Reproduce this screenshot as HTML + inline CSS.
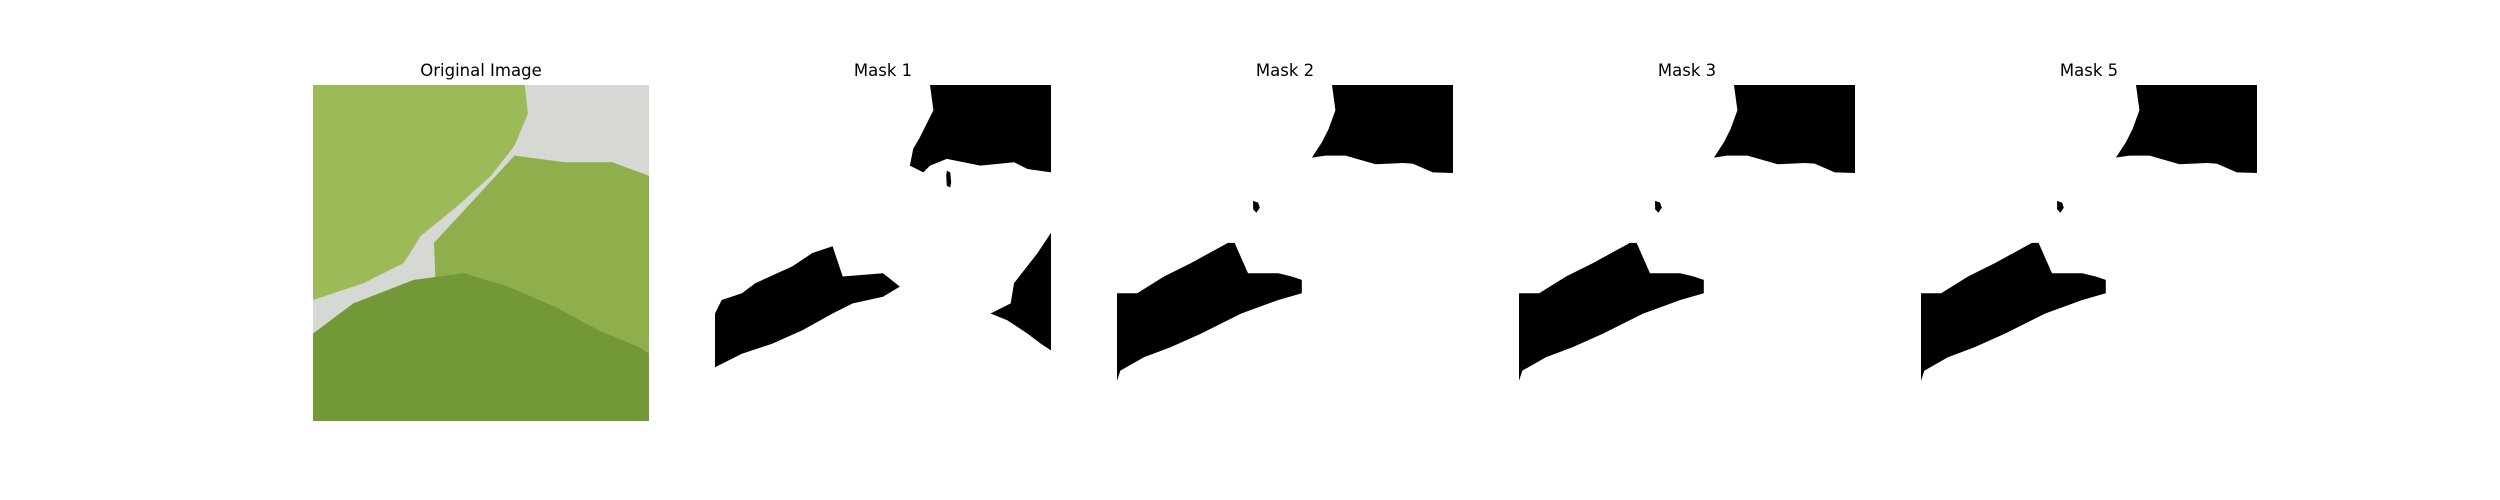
<!DOCTYPE html>
<html><head><meta charset="utf-8"><style>
html,body{margin:0;padding:0;background:#fff;width:2500px;height:500px;overflow:hidden}
svg{display:block}
text{font-family:"DejaVu Sans","Liberation Sans",sans-serif;font-size:16.5px;fill:#000}
</style></head><body>
<svg id="fig" width="2500" height="500" viewBox="0 0 2500 500" xmlns="http://www.w3.org/2000/svg"></svg>
<script>
const titles = ["Original Image", "Mask 1", "Mask 2", "Mask 3", "Mask 5"];
const maskA = [
  [[.64,0],[.65,.075],[.61,.155],[.59,.19],[.58,.24],[.62,.26],[.64,.24],[.69,.22],[.79,.24],[.89,.23],[.93,.25],[1,.26],[1,0]],
  [[.69,.255],[.70,.26],[.703,.29],[.70,.305],[.69,.30],[.688,.27]],
  [[0,.68],[.02,.64],[.08,.62],[.12,.59],[.23,.54],[.29,.50],[.35,.48],[.38,.57],[.50,.56],[.55,.60],[.50,.63],[.41,.65],[.35,.68],[.26,.73],[.17,.77],[.08,.80],[0,.84]],
  [[1,.44],[.96,.50],[.89,.59],[.88,.65],[.82,.68],[.87,.70],[.93,.74],[.97,.77],[1,.79]]
];
const maskB = [
  [[.64,0],[.65,.075],[.63,.13],[.61,.17],[.58,.216],[.62,.21],[.68,.21],[.77,.236],[.85,.232],[.88,.234],[.94,.26],[1,.262],[1,0]],
  [[.405,.345],[.42,.35],[.425,.365],[.415,.38],[.405,.37]],
  [[0,.62],[.06,.62],[.14,.57],[.22,.53],[.33,.47],[.35,.47],[.39,.56],[.48,.56],[.52,.57],[.55,.58],[.55,.62],[.48,.64],[.37,.68],[.25,.74],[.16,.78],[.08,.81],[.01,.85],[0,.88]]
];
const masks = [maskA, maskB, maskB, maskB];
const leaves = [
  {c:"#8fae4c", p:[[.6,.21],[.75,.23],[.89,.23],[1,.27],[1,1],[.38,1],[.36,.47]]},
  {c:"#9cbb58", p:[[0,0],[.63,0],[.64,.085],[.6,.18],[.53,.27],[.43,.36],[.32,.45],[.27,.53],[.15,.59],[0,.64]]},
  {c:"#739837", p:[[0,.74],[.12,.65],[.3,.58],[.45,.56],[.58,.6],[.72,.66],[.85,.73],[.97,.78],[1,.8],[1,1],[0,1]]}
];
const NS = "http://www.w3.org/2000/svg";
const svg = document.getElementById("fig");
const X0 = 313, STEP = 402, W = 336, Y0 = 85, H = 336;
function px(i,u){return X0+i*STEP+u*W;}
function py(v){return Y0+v*H;}
function poly(i,pts){return pts.map(q=>px(i,q[0]).toFixed(1)+","+py(q[1]).toFixed(1)).join(" ");}
titles.forEach((t,i)=>{
  const tx=document.createElementNS(NS,"text");
  
  
  tx.setAttribute("x",px(i,.5));tx.setAttribute("y",76);tx.setAttribute("text-anchor","middle");
  tx.textContent=t;svg.appendChild(tx);
});
const bg=document.createElementNS(NS,"rect");


bg.setAttribute("x",px(0,0));bg.setAttribute("y",Y0);bg.setAttribute("width",W);bg.setAttribute("height",H);bg.setAttribute("fill","#d6d9d3");
svg.appendChild(bg);
leaves.forEach(l=>{
  const p=document.createElementNS(NS,"polygon");
  
  
  p.setAttribute("points",poly(0,l.p));p.setAttribute("fill",l.c);svg.appendChild(p);
});
masks.forEach((m,k)=>{
  m.forEach(s=>{
    const p=document.createElementNS(NS,"polygon");
    
    
    p.setAttribute("points",poly(k+1,s));p.setAttribute("fill","#000");svg.appendChild(p);
  });
});
</script>
</body></html>
